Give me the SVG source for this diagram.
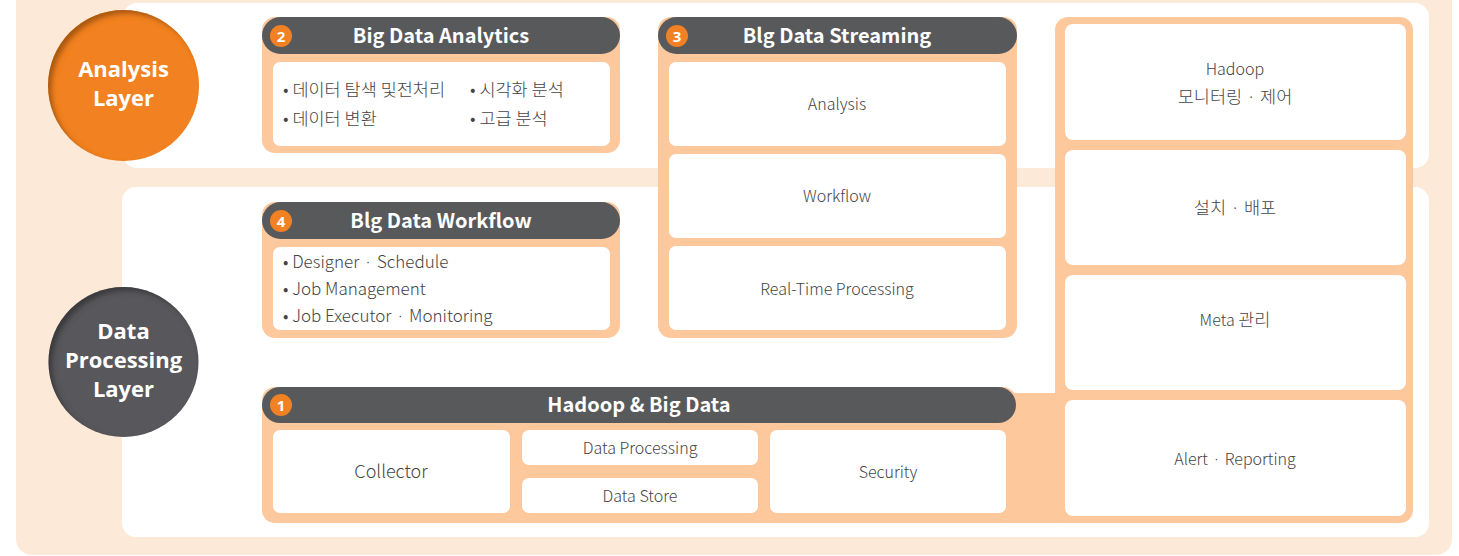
<svg xmlns="http://www.w3.org/2000/svg" width="1459" height="556" viewBox="0 0 1459 556">
<defs>
<style>
.bg{fill:#fde9d8}
.panel{fill:#ffffff}
.frame{fill:#fdc89c}
.head{fill:#58595b}
.cell{fill:#ffffff}
.badge{fill:#f28124}
.t{font-family:"Noto Sans CJK KR","Open Sans",sans-serif;font-size:16px;font-weight:300;fill:#444444}
.tc{font-family:"Noto Sans CJK KR","Open Sans",sans-serif;font-size:16px;font-weight:300;fill:#444444;text-anchor:middle}
.ko{font-size:17.5px}
.wf{font-size:17px}
.dot{font-family:"Open Sans","Noto Sans",sans-serif}
.title{font-family:"Noto Sans CJK KR","Open Sans",sans-serif;font-size:20px;font-weight:bold;fill:#ffffff;text-anchor:middle}
.num{font-family:"Open Sans","Noto Sans",sans-serif;font-size:15px;font-weight:bold;fill:#ffffff;text-anchor:middle}
.layer{font-family:"Open Sans","Noto Sans",sans-serif;font-size:22px;font-weight:bold;fill:#ffffff;text-anchor:middle}
</style>
<filter id="inner" x="-10%" y="-10%" width="120%" height="120%">
<feGaussianBlur in="SourceAlpha" stdDeviation="2.5"/>
<feOffset dx="3.5" dy="3.5" result="ob"/>
<feComposite in="SourceAlpha" in2="ob" operator="out" result="edge"/>
<feFlood flood-color="#000000" flood-opacity="0.55"/>
<feComposite in2="edge" operator="in" result="shadow"/>
<feMerge><feMergeNode in="SourceGraphic"/><feMergeNode in="shadow"/></feMerge>
</filter>
</defs>

<g id="background">
<rect class="bg" x="16" y="-30" width="1436" height="585" rx="16"/>
<rect class="panel" x="123" y="3" width="1306" height="165" rx="14"/>
<rect class="panel" x="122" y="187" width="1307" height="350" rx="14"/>
</g>

<g id="analysis-layer">
<circle cx="123.5" cy="85.5" r="75.5" fill="#f28124" filter="url(#inner)"/>
<text class="layer" x="123.5" y="77">Analysis</text>
<text class="layer" x="123.5" y="106">Layer</text>
</g>

<g id="data-processing-layer">
<circle cx="123.5" cy="362" r="75" fill="#58595b" filter="url(#inner)"/>
<text class="layer" x="123.5" y="339">Data</text>
<text class="layer" x="123.5" y="368">Processing</text>
<text class="layer" x="123.5" y="397">Layer</text>
</g>

<g id="connectors">
<rect class="frame" x="1000" y="393" width="70" height="130"/>
</g>

<g id="big-data-analytics">
<rect class="frame" x="262" y="17" width="358" height="136" rx="13"/>
<rect class="head" x="262" y="17" width="358" height="37" rx="18.5"/>
<circle class="badge" cx="281" cy="36" r="11"/>
<text class="num" x="281" y="41.5">2</text>
<text class="title" x="441" y="43">Big Data Analytics</text>
<rect class="cell" x="273" y="62" width="337" height="84" rx="7"/>
<text class="t ko" x="283" y="95.5">• 데이터 탐색 및전처리</text>
<text class="t ko" x="470" y="95.5">• 시각화 분석</text>
<text class="t ko" x="283" y="124.5">• 데이터 변환</text>
<text class="t ko" x="470" y="124.5">• 고급 분석</text>
</g>

<g id="big-data-workflow">
<rect class="frame" x="262" y="202" width="358" height="136" rx="13"/>
<rect class="head" x="262" y="202" width="358" height="37" rx="18.5"/>
<circle class="badge" cx="281" cy="221" r="11"/>
<text class="num" x="281" y="226.5">4</text>
<text class="title" x="441" y="228">Blg Data Workflow</text>
<rect class="cell" x="273" y="247" width="337" height="83" rx="7"/>
<text class="t wf" x="283" y="268">• Designer <tspan class="dot" dx="3">·</tspan><tspan dx="3"> Schedule</tspan></text>
<text class="t wf" x="283" y="295">• Job Management</text>
<text class="t wf" x="283" y="322">• Job Executor <tspan class="dot" dx="3">·</tspan><tspan dx="3"> Monitoring</tspan></text>
</g>

<g id="big-data-streaming">
<rect class="frame" x="658" y="17" width="359" height="321" rx="13"/>
<rect class="head" x="658" y="17" width="359" height="37" rx="18.5"/>
<circle class="badge" cx="677" cy="36" r="11"/>
<text class="num" x="677" y="41.5">3</text>
<text class="title" x="837" y="43">Blg Data Streaming</text>
<rect class="cell" x="669" y="62" width="337" height="84" rx="7"/>
<text class="tc" x="837" y="109.5">Analysis</text>
<rect class="cell" x="669" y="154" width="337" height="84" rx="7"/>
<text class="tc" x="837" y="202">Workflow</text>
<rect class="cell" x="669" y="246" width="337" height="84" rx="7"/>
<text class="tc" x="837" y="294.5">Real-Time Processing</text>
</g>

<g id="hadoop-big-data">
<rect class="frame" x="262" y="387" width="754" height="136" rx="13"/>
<rect class="head" x="262" y="387" width="754" height="36" rx="18"/>
<circle class="badge" cx="281" cy="405" r="11"/>
<text class="num" x="281" y="410.5">1</text>
<text class="title" x="639" y="412">Hadoop &amp; Big Data</text>
<rect class="cell" x="273" y="430" width="237" height="83" rx="7"/>
<text class="tc" x="391" y="478" style="font-size:18px">Collector</text>
<rect class="cell" x="522" y="430" width="236" height="35" rx="7"/>
<text class="tc" x="640" y="453.5">Data Processing</text>
<rect class="cell" x="522" y="478" width="236" height="35" rx="7"/>
<text class="tc" x="640" y="501.5">Data Store</text>
<rect class="cell" x="770" y="430" width="236" height="83" rx="7"/>
<text class="tc" x="888" y="477.5">Security</text>
</g>

<g id="management">
<rect class="frame" x="1055" y="17" width="358" height="506" rx="13"/>
<rect class="cell" x="1065" y="24" width="341" height="116" rx="8"/>
<text class="tc" x="1235" y="75">Hadoop</text>
<text class="tc ko" x="1235" y="102.5">모니터링 <tspan class="dot" dx="3">·</tspan><tspan dx="3"> 제어</tspan></text>
<rect class="cell" x="1065" y="150" width="341" height="115" rx="8"/>
<text class="tc ko" x="1235" y="213.5">설치 <tspan class="dot" dx="3">·</tspan><tspan dx="3"> 배포</tspan></text>
<rect class="cell" x="1065" y="275" width="341" height="115" rx="8"/>
<text class="tc" x="1235" y="326">Meta <tspan class="ko">관리</tspan></text>
<rect class="cell" x="1065" y="400" width="341" height="116" rx="8"/>
<text class="tc" x="1235" y="465">Alert <tspan class="dot" dx="3">·</tspan><tspan dx="3"> Reporting</tspan></text>
</g>
</svg>
